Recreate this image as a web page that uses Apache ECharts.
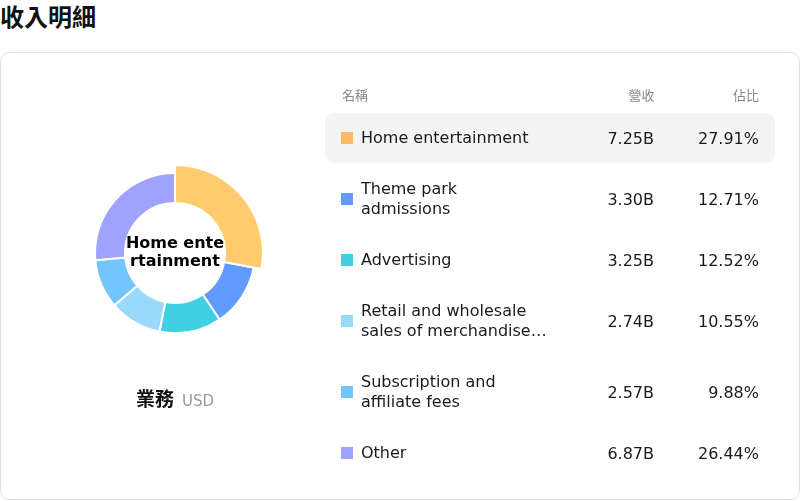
<!DOCTYPE html>
<html>
<head>
<meta charset="utf-8">
<script src="https://cdn.jsdelivr.net/npm/echarts@6/dist/echarts.min.js"></script>
<style>
  html, body { margin: 0; padding: 0; background: #fff; }
  body { width: 800px; height: 501px; position: relative; overflow: hidden;
         font-family: "DejaVu Sans", "Noto Sans CJK TC", sans-serif; color: #1a1a1a; }
  #title { position: absolute; left: 0; top: 0; font-size: 24px; font-weight: 700; line-height: 32px;
           font-family: "Noto Sans CJK TC", sans-serif; color: #111; }
  #card { position: absolute; left: 0; top: 52px; width: 800px; height: 448px; box-sizing: border-box;
          border: 1px solid #e1dfee; border-radius: 10px; }
  #chart { position: absolute; left: 0; top: 52px; width: 330px; height: 448px; }
  #unit { position: absolute; left: 0; width: 350px; top: 384px; text-align: center; white-space: nowrap; line-height: 28px; }
  #unit .a { font-family: "Noto Sans CJK TC", sans-serif; font-weight: 700; font-size: 19px; color: #111; }
  #unit .b { font-size: 15px; color: #999; margin-left: 8px; }
  #table { position: absolute; left: 325px; top: 83px; width: 450px; }
  .head { display: flex; height: 22px; align-items: center; padding: 0 16px; font-size: 13px; color: #888;
          font-family: "Noto Sans CJK TC", sans-serif; margin-bottom: 8px; }
  .row { display: flex; align-items: center; padding: 15px 16px; border-radius: 9px; margin-bottom: 1px; font-size: 16px; }
  .row.hl { background: #f4f4f4; }
  .c1 { flex: 0 0 auto; width: 230px; display: flex; align-items: center; }
  .sq { width: 12px; height: 12px; flex: 0 0 12px; margin-right: 8px; }
  .nm { width: 190px; line-height: 20px; display: -webkit-box; -webkit-line-clamp: 2; -webkit-box-orient: vertical; overflow: hidden; }
  .c2 { width: 83px; text-align: right; }
  .c3 { width: 105px; text-align: right; }
  .head .c1 { display: block; padding-left: 1px; }
</style>
</head>
<body>
<div id="title">收入明細</div>
<div id="card"></div>
<div id="chart"></div>
<div id="unit"><span class="a">業務</span><span class="b">USD</span></div>
<div id="table"></div>
<script>
// ---- data ----
const categories = ["Home entertainment", "Theme park admissions", "Advertising",
  "Retail and wholesale sales of merchandise, licensing and other", "Subscription and affiliate fees", "Other"];
const revenue = [7.25, 3.30, 3.25, 2.74, 2.57, 6.87];          // billions USD
const revenueLabels = ["7.25B", "3.30B", "3.25B", "2.74B", "2.57B", "6.87B"];
const shareLabels = ["27.91%", "12.71%", "12.52%", "10.55%", "9.88%", "26.44%"];
const colors = ["#FDB963", "#629AFE", "#40D0E4", "#99D9FC", "#73C5FD", "#A0A3FD"];
const headers = ["名稱", "營收", "佔比"];
const highlighted = 0;

// ---- table ----
const table = document.getElementById('table');
let html = '<div class="head"><div class="c1">' + headers[0] + '</div><div class="c2">' + headers[1] +
  '</div><div class="c3">' + headers[2] + '</div></div>';
categories.forEach((c, i) => {
  html += '<div class="row' + (i === highlighted ? ' hl' : '') + '"><div class="c1"><div class="sq" style="background:' +
    colors[i] + '"></div><div class="nm">' + c + '</div></div><div class="c2">' + revenueLabels[i] +
    '</div><div class="c3">' + shareLabels[i] + '</div></div>';
});
table.innerHTML = html;

// ---- chart ----
const chart = echarts.init(document.getElementById('chart'), null, { renderer: 'canvas' });
chart.setOption({
  animation: false,
  color: colors,
  series: [{
    type: 'pie',
    center: [175, 201],
    radius: [50, 80],
    startAngle: 90,
    clockwise: true,
    avoidLabelOverlap: false,
    itemStyle: { borderColor: '#fff', borderWidth: 2 },
    label: { show: false, position: 'center' },
    labelLine: { show: false },
    emphasis: {
      scale: true,
      scaleSize: 8,
      label: {
        show: true,
        fontFamily: 'DejaVu Sans',
        fontSize: 16,
        fontWeight: 'bold',
        color: '#000',
        width: 100,
        lineHeight: 18,
        overflow: 'breakAll'
      }
    },
    data: categories.map((c, i) => ({ name: c, value: revenue[i] }))
  }]
});
chart.dispatchAction({ type: 'highlight', seriesIndex: 0, dataIndex: highlighted });
</script>
</body>
</html>
